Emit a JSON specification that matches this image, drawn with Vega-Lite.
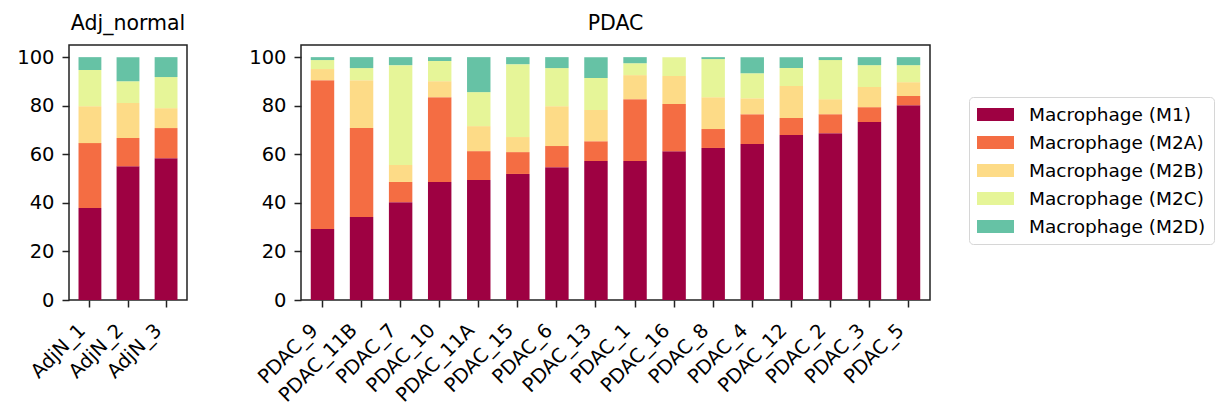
{
  "$schema": "https://vega.github.io/schema/vega-lite/v6.json",
  "background": "white",
  "padding": {"left": 16, "top": 12, "right": 5, "bottom": 5},
  "datasets": {
    "cells": [
      {"group": "Adj_normal", "sample": "AdjN_1", "cell": "Macrophage (M1)", "pct": 37.9},
      {"group": "Adj_normal", "sample": "AdjN_1", "cell": "Macrophage (M2A)", "pct": 26.7},
      {"group": "Adj_normal", "sample": "AdjN_1", "cell": "Macrophage (M2B)", "pct": 15.2},
      {"group": "Adj_normal", "sample": "AdjN_1", "cell": "Macrophage (M2C)", "pct": 14.9},
      {"group": "Adj_normal", "sample": "AdjN_1", "cell": "Macrophage (M2D)", "pct": 5.3},
      {"group": "Adj_normal", "sample": "AdjN_2", "cell": "Macrophage (M1)", "pct": 55.1},
      {"group": "Adj_normal", "sample": "AdjN_2", "cell": "Macrophage (M2A)", "pct": 11.6},
      {"group": "Adj_normal", "sample": "AdjN_2", "cell": "Macrophage (M2B)", "pct": 14.4},
      {"group": "Adj_normal", "sample": "AdjN_2", "cell": "Macrophage (M2C)", "pct": 9.0},
      {"group": "Adj_normal", "sample": "AdjN_2", "cell": "Macrophage (M2D)", "pct": 9.9},
      {"group": "Adj_normal", "sample": "AdjN_3", "cell": "Macrophage (M1)", "pct": 58.4},
      {"group": "Adj_normal", "sample": "AdjN_3", "cell": "Macrophage (M2A)", "pct": 12.4},
      {"group": "Adj_normal", "sample": "AdjN_3", "cell": "Macrophage (M2B)", "pct": 8.2},
      {"group": "Adj_normal", "sample": "AdjN_3", "cell": "Macrophage (M2C)", "pct": 12.8},
      {"group": "Adj_normal", "sample": "AdjN_3", "cell": "Macrophage (M2D)", "pct": 8.2},
      {"group": "PDAC", "sample": "PDAC_9", "cell": "Macrophage (M1)", "pct": 29.2},
      {"group": "PDAC", "sample": "PDAC_9", "cell": "Macrophage (M2A)", "pct": 61.3},
      {"group": "PDAC", "sample": "PDAC_9", "cell": "Macrophage (M2B)", "pct": 4.6},
      {"group": "PDAC", "sample": "PDAC_9", "cell": "Macrophage (M2C)", "pct": 3.7},
      {"group": "PDAC", "sample": "PDAC_9", "cell": "Macrophage (M2D)", "pct": 1.2},
      {"group": "PDAC", "sample": "PDAC_11B", "cell": "Macrophage (M1)", "pct": 34.2},
      {"group": "PDAC", "sample": "PDAC_11B", "cell": "Macrophage (M2A)", "pct": 36.6},
      {"group": "PDAC", "sample": "PDAC_11B", "cell": "Macrophage (M2B)", "pct": 19.7},
      {"group": "PDAC", "sample": "PDAC_11B", "cell": "Macrophage (M2C)", "pct": 5.0},
      {"group": "PDAC", "sample": "PDAC_11B", "cell": "Macrophage (M2D)", "pct": 4.5},
      {"group": "PDAC", "sample": "PDAC_7", "cell": "Macrophage (M1)", "pct": 40.3},
      {"group": "PDAC", "sample": "PDAC_7", "cell": "Macrophage (M2A)", "pct": 8.3},
      {"group": "PDAC", "sample": "PDAC_7", "cell": "Macrophage (M2B)", "pct": 7.0},
      {"group": "PDAC", "sample": "PDAC_7", "cell": "Macrophage (M2C)", "pct": 41.1},
      {"group": "PDAC", "sample": "PDAC_7", "cell": "Macrophage (M2D)", "pct": 3.3},
      {"group": "PDAC", "sample": "PDAC_10", "cell": "Macrophage (M1)", "pct": 48.6},
      {"group": "PDAC", "sample": "PDAC_10", "cell": "Macrophage (M2A)", "pct": 34.9},
      {"group": "PDAC", "sample": "PDAC_10", "cell": "Macrophage (M2B)", "pct": 6.6},
      {"group": "PDAC", "sample": "PDAC_10", "cell": "Macrophage (M2C)", "pct": 8.3},
      {"group": "PDAC", "sample": "PDAC_10", "cell": "Macrophage (M2D)", "pct": 1.6},
      {"group": "PDAC", "sample": "PDAC_11A", "cell": "Macrophage (M1)", "pct": 49.4},
      {"group": "PDAC", "sample": "PDAC_11A", "cell": "Macrophage (M2A)", "pct": 11.9},
      {"group": "PDAC", "sample": "PDAC_11A", "cell": "Macrophage (M2B)", "pct": 10.3},
      {"group": "PDAC", "sample": "PDAC_11A", "cell": "Macrophage (M2C)", "pct": 14.0},
      {"group": "PDAC", "sample": "PDAC_11A", "cell": "Macrophage (M2D)", "pct": 14.4},
      {"group": "PDAC", "sample": "PDAC_15", "cell": "Macrophage (M1)", "pct": 51.9},
      {"group": "PDAC", "sample": "PDAC_15", "cell": "Macrophage (M2A)", "pct": 9.0},
      {"group": "PDAC", "sample": "PDAC_15", "cell": "Macrophage (M2B)", "pct": 6.2},
      {"group": "PDAC", "sample": "PDAC_15", "cell": "Macrophage (M2C)", "pct": 30.0},
      {"group": "PDAC", "sample": "PDAC_15", "cell": "Macrophage (M2D)", "pct": 2.9},
      {"group": "PDAC", "sample": "PDAC_6", "cell": "Macrophage (M1)", "pct": 54.7},
      {"group": "PDAC", "sample": "PDAC_6", "cell": "Macrophage (M2A)", "pct": 8.7},
      {"group": "PDAC", "sample": "PDAC_6", "cell": "Macrophage (M2B)", "pct": 16.4},
      {"group": "PDAC", "sample": "PDAC_6", "cell": "Macrophage (M2C)", "pct": 15.7},
      {"group": "PDAC", "sample": "PDAC_6", "cell": "Macrophage (M2D)", "pct": 4.5},
      {"group": "PDAC", "sample": "PDAC_13", "cell": "Macrophage (M1)", "pct": 57.2},
      {"group": "PDAC", "sample": "PDAC_13", "cell": "Macrophage (M2A)", "pct": 8.2},
      {"group": "PDAC", "sample": "PDAC_13", "cell": "Macrophage (M2B)", "pct": 12.8},
      {"group": "PDAC", "sample": "PDAC_13", "cell": "Macrophage (M2C)", "pct": 13.2},
      {"group": "PDAC", "sample": "PDAC_13", "cell": "Macrophage (M2D)", "pct": 8.6},
      {"group": "PDAC", "sample": "PDAC_1", "cell": "Macrophage (M1)", "pct": 57.2},
      {"group": "PDAC", "sample": "PDAC_1", "cell": "Macrophage (M2A)", "pct": 25.5},
      {"group": "PDAC", "sample": "PDAC_1", "cell": "Macrophage (M2B)", "pct": 9.9},
      {"group": "PDAC", "sample": "PDAC_1", "cell": "Macrophage (M2C)", "pct": 4.9},
      {"group": "PDAC", "sample": "PDAC_1", "cell": "Macrophage (M2D)", "pct": 2.5},
      {"group": "PDAC", "sample": "PDAC_16", "cell": "Macrophage (M1)", "pct": 61.3},
      {"group": "PDAC", "sample": "PDAC_16", "cell": "Macrophage (M2A)", "pct": 19.4},
      {"group": "PDAC", "sample": "PDAC_16", "cell": "Macrophage (M2B)", "pct": 11.5},
      {"group": "PDAC", "sample": "PDAC_16", "cell": "Macrophage (M2C)", "pct": 7.8},
      {"group": "PDAC", "sample": "PDAC_16", "cell": "Macrophage (M2D)", "pct": 0.0},
      {"group": "PDAC", "sample": "PDAC_8", "cell": "Macrophage (M1)", "pct": 62.6},
      {"group": "PDAC", "sample": "PDAC_8", "cell": "Macrophage (M2A)", "pct": 7.8},
      {"group": "PDAC", "sample": "PDAC_8", "cell": "Macrophage (M2B)", "pct": 13.1},
      {"group": "PDAC", "sample": "PDAC_8", "cell": "Macrophage (M2C)", "pct": 15.7},
      {"group": "PDAC", "sample": "PDAC_8", "cell": "Macrophage (M2D)", "pct": 0.8},
      {"group": "PDAC", "sample": "PDAC_4", "cell": "Macrophage (M1)", "pct": 64.2},
      {"group": "PDAC", "sample": "PDAC_4", "cell": "Macrophage (M2A)", "pct": 12.3},
      {"group": "PDAC", "sample": "PDAC_4", "cell": "Macrophage (M2B)", "pct": 6.6},
      {"group": "PDAC", "sample": "PDAC_4", "cell": "Macrophage (M2C)", "pct": 10.3},
      {"group": "PDAC", "sample": "PDAC_4", "cell": "Macrophage (M2D)", "pct": 6.6},
      {"group": "PDAC", "sample": "PDAC_12", "cell": "Macrophage (M1)", "pct": 67.9},
      {"group": "PDAC", "sample": "PDAC_12", "cell": "Macrophage (M2A)", "pct": 7.0},
      {"group": "PDAC", "sample": "PDAC_12", "cell": "Macrophage (M2B)", "pct": 13.2},
      {"group": "PDAC", "sample": "PDAC_12", "cell": "Macrophage (M2C)", "pct": 7.4},
      {"group": "PDAC", "sample": "PDAC_12", "cell": "Macrophage (M2D)", "pct": 4.5},
      {"group": "PDAC", "sample": "PDAC_2", "cell": "Macrophage (M1)", "pct": 68.7},
      {"group": "PDAC", "sample": "PDAC_2", "cell": "Macrophage (M2A)", "pct": 7.8},
      {"group": "PDAC", "sample": "PDAC_2", "cell": "Macrophage (M2B)", "pct": 6.2},
      {"group": "PDAC", "sample": "PDAC_2", "cell": "Macrophage (M2C)", "pct": 16.1},
      {"group": "PDAC", "sample": "PDAC_2", "cell": "Macrophage (M2D)", "pct": 1.2},
      {"group": "PDAC", "sample": "PDAC_3", "cell": "Macrophage (M1)", "pct": 73.3},
      {"group": "PDAC", "sample": "PDAC_3", "cell": "Macrophage (M2A)", "pct": 6.1},
      {"group": "PDAC", "sample": "PDAC_3", "cell": "Macrophage (M2B)", "pct": 8.3},
      {"group": "PDAC", "sample": "PDAC_3", "cell": "Macrophage (M2C)", "pct": 9.0},
      {"group": "PDAC", "sample": "PDAC_3", "cell": "Macrophage (M2D)", "pct": 3.3},
      {"group": "PDAC", "sample": "PDAC_5", "cell": "Macrophage (M1)", "pct": 80.2},
      {"group": "PDAC", "sample": "PDAC_5", "cell": "Macrophage (M2A)", "pct": 3.8},
      {"group": "PDAC", "sample": "PDAC_5", "cell": "Macrophage (M2B)", "pct": 5.7},
      {"group": "PDAC", "sample": "PDAC_5", "cell": "Macrophage (M2C)", "pct": 7.0},
      {"group": "PDAC", "sample": "PDAC_5", "cell": "Macrophage (M2D)", "pct": 3.3}
    ]
  },
  "spacing": 60,
  "resolve": {"scale": {"x": "independent", "color": "shared"}, "legend": {"color": "shared"}},
  "hconcat": [
    {
      "title": "Adj_normal",
      "width": 118,
      "height": 255,
      "data": {"name": "cells"},
      "transform": [{"filter": "datum.group === 'Adj_normal'"}],
      "mark": {"type": "bar"},
      "encoding": {
        "x": {
          "field": "sample", "type": "nominal", "sort": null,
          "scale": {"paddingInner": 0.4, "paddingOuter": 0.25},
          "axis": {"labelAngle": -45, "labelAlign": "right", "labelBaseline": "top", "labelOffset": -14, "labelPadding": 13.5}
        },
        "y": {
          "field": "pct", "type": "quantitative", "stack": "zero",
          "scale": {"domain": [0, 105], "nice": false},
          "axis": {"values": [0, 20, 40, 60, 80, 100]}
        },
        "color": {
          "field": "cell", "type": "nominal",
          "scale": {
            "domain": ["Macrophage (M1)", "Macrophage (M2A)", "Macrophage (M2B)", "Macrophage (M2C)", "Macrophage (M2D)"],
            "range": ["#9e0142", "#f46d43", "#fddb87", "#e6f598", "#66c2a5"]
          }
        },
        "order": {"field": "cell", "sort": "ascending"}
      }
    },
    {
      "title": "PDAC",
      "width": 629,
      "height": 255,
      "data": {"name": "cells"},
      "transform": [{"filter": "datum.group === 'PDAC'"}],
      "mark": {"type": "bar"},
      "encoding": {
        "x": {
          "field": "sample", "type": "nominal", "sort": null,
          "scale": {"paddingInner": 0.4, "paddingOuter": 0.25},
          "axis": {"labelAngle": -45, "labelAlign": "right", "labelBaseline": "top", "labelOffset": -14, "labelPadding": 13.5}
        },
        "y": {
          "field": "pct", "type": "quantitative", "stack": "zero",
          "scale": {"domain": [0, 105], "nice": false},
          "axis": {"values": [0, 20, 40, 60, 80, 100]}
        },
        "color": {
          "field": "cell", "type": "nominal",
          "scale": {
            "domain": ["Macrophage (M1)", "Macrophage (M2A)", "Macrophage (M2B)", "Macrophage (M2C)", "Macrophage (M2D)"],
            "range": ["#9e0142", "#f46d43", "#fddb87", "#e6f598", "#66c2a5"]
          },
          "legend": {
            "orient": "none",
            "legendX": 900,
            "legendY": 52,
            "title": null,
            "symbolType": "M-1,-0.35H1V0.35H-1Z",
            "symbolSize": 1369,
            "symbolStrokeWidth": 0,
            "symbolOpacity": 1,
            "labelFont": "DejaVu Sans",
            "labelFontSize": 18.5,
            "labelColor": "black",
            "labelOffset": 15,
            "labelLimit": 400,
            "rowPadding": 9,
            "clipHeight": 19,
            "padding": 8,
            "strokeColor": "#d6d6d6",
            "fillColor": "white",
            "cornerRadius": 4
          }
        },
        "order": {"field": "cell", "sort": "ascending"}
      }
    }
  ],
  "config": {
    "font": "DejaVu Sans",
    "view": {"stroke": "#222222", "strokeWidth": 1.5},
    "axis": {
      "labelFont": "DejaVu Sans",
      "labelFontSize": 19.5,
      "labelColor": "black",
      "tickColor": "#222222",
      "tickWidth": 1.5,
      "tickSize": 7,
      "labelPadding": 8,
      "domain": false,
      "grid": false,
      "title": null
    },
    "title": {
      "font": "DejaVu Sans",
      "fontSize": 20.5,
      "fontWeight": "normal",
      "color": "black",
      "anchor": "middle",
      "baseline": "alphabetic",
      "offset": 11
    }
  }
}
